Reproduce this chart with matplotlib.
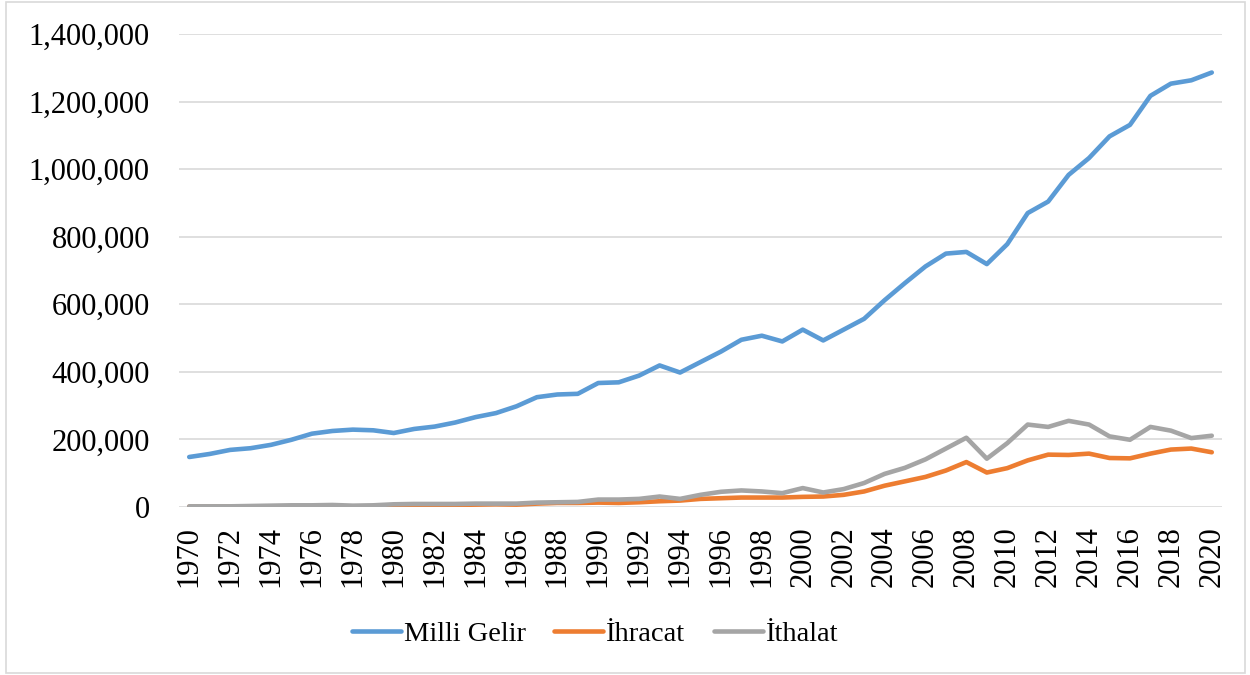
import matplotlib
matplotlib.use("Agg")
import matplotlib.pyplot as plt
from matplotlib.ticker import FuncFormatter
from matplotlib.patches import Rectangle

years = list(range(1970, 2021))

milli_gelir = [148, 157, 169, 174, 184, 199, 217, 225, 229, 227,
               219, 231, 238, 250, 266, 278, 298, 325, 333, 335,
               367, 369, 389, 419, 398, 429, 460, 495, 507, 490,
               525, 493, 525, 557, 612, 663, 712, 750, 755, 719,
               778, 870, 904, 983, 1033, 1097, 1131, 1217, 1253, 1263,
               1286]

ihracat = [1, 1, 1, 1, 1, 1, 2, 2, 2, 2,
           3, 5, 6, 6, 7, 8, 7, 10, 12, 12,
           13, 12, 14, 17, 19, 24, 26, 28, 28, 28,
           30, 31, 36, 46, 63, 76, 89, 108, 133, 102,
           115, 138, 155, 154, 158, 145, 144, 158, 170, 173,
           162]

ithalat = [2, 2, 2, 3, 4, 5, 5, 6, 4, 5,
           8, 9, 9, 9, 10, 10, 10, 13, 14, 15,
           22, 22, 24, 31, 24, 36, 45, 49, 46, 41,
           56, 43, 53, 71, 98, 116, 141, 173, 205, 143,
           189, 244, 237, 255, 244, 209, 199, 237, 226, 204,
           211]

series = [("Milli Gelir", milli_gelir, "#5B9BD5"),
          ("İhracat", ihracat, "#ED7D31"),
          ("İthalat", ithalat, "#A5A5A5")]

plt.rcParams['font.family'] = ['Liberation Serif', 'DejaVu Serif']

fig = plt.figure(figsize=(12.5, 6.75), dpi=100)
ax = fig.add_axes([179/1250, 1 - 507/675, (1222 - 179)/1250, (507 - 34)/675])

for name, vals, col in series:
    ax.plot(years, [v * 1000 for v in vals], color=col, lw=3.3,
            solid_capstyle='round', solid_joinstyle='round', label=name, zorder=3)

ax.set_xlim(1969.5, 2020.5)
ax.set_ylim(0, 1400000)
ax.set_yticks(range(0, 1400001, 200000))
ax.yaxis.set_major_formatter(FuncFormatter(lambda v, p: f"{int(v):,}"))
ax.set_xticks(list(range(1970, 2021, 2)))
ax.set_xticklabels([str(y) for y in range(1970, 2021, 2)], rotation=90)
ax.tick_params(axis='y', length=0, pad=21, labelsize=22)
ax.tick_params(axis='x', length=0, pad=14, labelsize=22)
ax.grid(axis='y', color='#D9D9D9', lw=1.2, zorder=0)
ax.grid(axis='x', visible=False)
for s in ax.spines.values():
    s.set_visible(False)

fig.legend(loc='center', bbox_to_anchor=(595/1250, 1 - 634/675), ncol=3,
           frameon=False, fontsize=20.5, handlelength=1.72, handletextpad=0.1,
           columnspacing=1.0)

fig.patches.append(Rectangle((6/1250, 2/675), (1245 - 6)/1250, (673 - 2)/675,
                             transform=fig.transFigure, fill=False,
                             edgecolor='#D9D9D9', lw=1.2))

fig.savefig("out.png", dpi=100)
